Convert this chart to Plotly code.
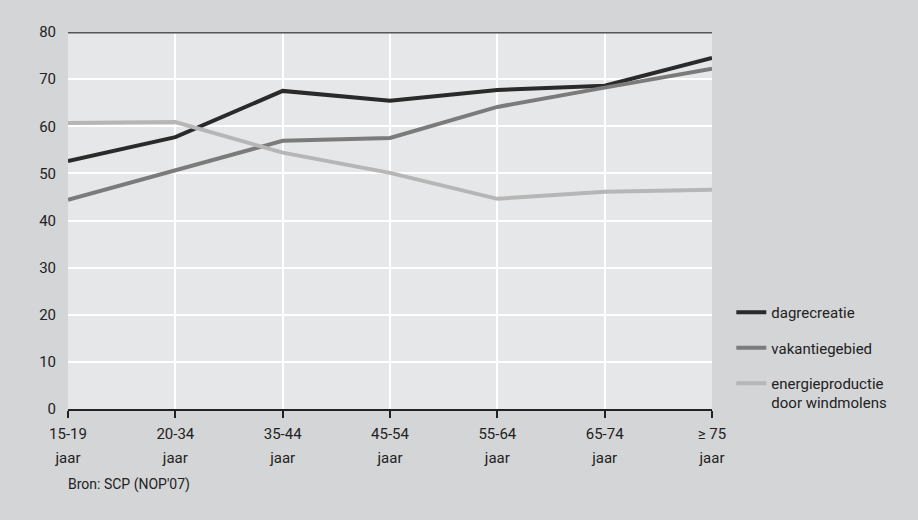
import plotly.graph_objects as go

categories = ["15-19", "20-34", "35-44", "45-54", "55-64", "65-74", "≥ 75"]
unit_label = "jaar"
dagrecreatie = [52.6, 57.7, 67.5, 65.4, 67.7, 68.6, 74.5]
vakantiegebied = [44.4, 50.7, 56.9, 57.5, 64.1, 68.2, 72.2]
energie = [60.7, 60.9, 54.4, 50.1, 44.6, 46.1, 46.5]
series_names = ["dagrecreatie", "vakantiegebied", "energieproductie<br>door windmolens"]
y_ticks = [0, 10, 20, 30, 40, 50, 60, 70, 80]

FONT = "Roboto, sans-serif"
colors = ["#2a2a2a", "#7b7b7b", "#b6b6b6"]

tick_text = [f"<span style='font-size:15px'>{c}</span><br><span style='font-size:15px'>{unit_label}</span>"
             for c in categories]

fig = go.Figure()
for i, (name, vals) in enumerate(zip(series_names, [dagrecreatie, vakantiegebied, energie])):
    fig.add_trace(go.Scatter(
        x=categories, y=vals, mode="lines", name=name,
        line=dict(color=colors[i], width=4),
        legendgroup=f"g{i}",
    ))

fig.update_layout(
    width=918, height=520,
    paper_bgcolor="#d4d5d7", plot_bgcolor="#e6e7e9",
    margin=dict(l=68, r=206, t=32, b=111),
    font=dict(family=FONT, size=15, color="#222222"),
    showlegend=True,
    legend=dict(x=1.03, y=0.30, xanchor="left", yanchor="top",
                bgcolor="rgba(0,0,0,0)", font=dict(family=FONT, size=15, color="#222222"),
                tracegroupgap=13, itemwidth=30, valign="top"),
    xaxis=dict(
        type="category", range=[0, 6],
        tickvals=categories, ticktext=tick_text,
        tickfont=dict(family=FONT, size=18, color="#222222"),
        showgrid=True, gridcolor="#ffffff", gridwidth=2,
        showline=True, linecolor="#222222", linewidth=1.5,
        ticks="outside", ticklen=7, tickcolor="#222222", tickwidth=1.5,
        ticklabelstandoff=0,
        zeroline=False, fixedrange=True,
    ),
    yaxis=dict(
        range=[0, 80], tickvals=y_ticks,
        showgrid=True, gridcolor="#ffffff", gridwidth=2,
        showline=False, zeroline=False, ticks="", ticklabelstandoff=11,
        fixedrange=True,
    ),
    shapes=[dict(type="line", xref="paper", yref="y", x0=0, x1=1, y0=80, y1=80,
                 line=dict(color="#555555", width=3))],
    annotations=[dict(text="Bron: SCP (NOP'07)", xref="paper", yref="paper",
                      x=-0.003, y=-0.2, xanchor="left", yanchor="middle", showarrow=False,
                      font=dict(family=FONT, size=14, color="#222222"))],
)

fig.write_html("out.html", config={"displayModeBar": False},
               post_script="document.body.style.margin='0';")
